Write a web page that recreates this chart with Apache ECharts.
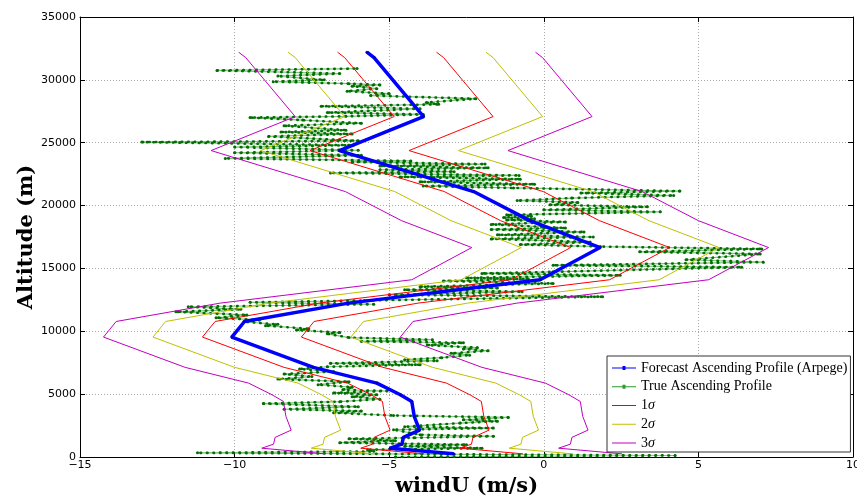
<!DOCTYPE html>
<html><head><meta charset="utf-8">
<script src="https://cdn.jsdelivr.net/npm/echarts@6/dist/echarts.min.js"></script>
<style>html,body{margin:0;padding:0;background:#fff}#c{width:857px;height:498px}</style>
</head><body><div id="c"></div>
<script>
// ---- axis ticks ----
const xTickValues = [-15, -10, -5, 0, 5, 10];
const yTickValues = [0, 5000, 10000, 15000, 20000, 25000, 30000, 35000];

// ---- forecast profile and sigma envelopes (same altitudes) ----
const profileAlt = [250, 700, 1020, 1560, 2140, 3230, 4420, 4950, 5880, 7130, 9540, 10780, 12240, 14100, 16660, 18800, 21115, 24375, 27080, 31770, 32200];
const forecastU  = [-2.92, -4.97, -4.59, -4.54, -4.02, -4.19, -4.27, -4.64, -5.40, -7.45, -10.09, -9.68, -6.32, -0.12, 1.82, -0.45, -2.27, -6.61, -3.89, -5.49, -5.72];
const sig1Left   = [-3.87, -5.92, -5.54, -5.49, -4.97, -5.14, -5.22, -5.59, -6.35, -8.40, -11.04, -10.63, -7.27, -1.07, 0.87, -1.40, -3.22, -7.56, -4.84, -6.44, -6.67];
const sig1Right  = [-0.67, -2.72, -2.34, -2.29, -1.77, -1.94, -2.02, -2.39, -3.15, -5.20, -7.84, -7.43, -4.07, 2.13, 4.07, 1.80, -0.02, -4.36, -1.64, -3.24, -3.47];
const sig2Left   = [-5.47, -7.52, -7.14, -7.09, -6.57, -6.74, -6.82, -7.19, -7.95, -10.00, -12.64, -12.23, -8.87, -2.67, -0.73, -3.00, -4.82, -9.16, -6.44, -8.04, -8.27];
const sig2Right  = [0.93, -1.12, -0.74, -0.69, -0.17, -0.34, -0.42, -0.79, -1.55, -3.60, -6.24, -5.83, -2.47, 3.73, 5.67, 3.40, 1.58, -2.76, -0.04, -1.64, -1.87];
const sig3Left   = [-7.07, -9.12, -8.74, -8.69, -8.17, -8.34, -8.42, -8.79, -9.55, -11.60, -14.24, -13.83, -10.47, -4.27, -2.33, -4.60, -6.42, -10.76, -8.04, -9.64, -9.87];
const sig3Right  = [2.53, 0.48, 0.86, 0.91, 1.43, 1.26, 1.18, 0.81, 0.05, -2.00, -4.64, -4.23, -0.87, 5.33, 7.27, 5.00, 3.18, -1.16, 1.56, -0.04, -0.27];

// ---- true ascending profile ----
const trueAlt = [0, 120, 330, 450, 580, 700, 850, 980, 1140, 1300, 1450, 1530, 1650, 1770, 2170, 2300, 2410, 2700, 2850, 2960,
  3150, 3300, 3520, 3650, 3800, 4000, 4250, 4400, 4600, 4800, 4950, 5100, 5250, 5350, 5550, 5750, 5990, 6200, 6400, 6600,
  6800, 7000, 7180, 7340, 7450, 7650, 7740, 7900, 8100, 8250, 8450, 8600, 8700, 8900, 9090, 9200, 9330, 9500, 9800, 9900,
  10100, 10200, 10450, 10550, 10760, 10900, 11070, 11300, 11550, 11750, 11950, 12150, 12300, 12450, 12750, 12900, 13150, 13300, 13450, 13550,
  13800, 14000, 14150, 14250, 14450, 14600, 14730, 15100, 15250, 15500, 15690, 16150, 16320, 16550, 16740, 16900, 17100, 17350, 17500, 17670,
  17900, 18100, 18220, 18500, 18700, 18860, 18950, 19050, 19150, 19260, 19500, 19660, 19900, 20060, 20250, 20400, 20600, 20800, 21000, 21150,
  21400, 21550, 21700, 21890, 22100, 22280, 22400, 22600, 22700, 22850, 23000, 23150, 23300, 23470, 23550, 23750, 24000, 24200, 24400, 24650,
  24800, 25050, 25150, 25500, 25700, 25850, 26000, 26350, 26550, 26800, 27000, 27100, 27250, 27400, 27700, 27900, 28050, 28200, 28500, 28750,
  28900, 29100, 29300, 29500, 29600, 29700, 29850, 30000, 30300, 30500, 30750, 30900];
const trueU = [-4.8, 4.25, -11.2, -5.5, -5.7, -2.0, -4.5, -2.5, -6.6, -4.8, -6.3, -4.2, -1.63, -4.0, -4.86, -1.63, -4.5, -2.7, -1.5, -2.6,
  -1.15, -4.86, -6.8, -5.9, -8.4, -6.0, -9.07, -6.6, -5.3, -6.2, -5.4, -6.8, -5.07, -6.5, -6.2, -7.3, -6.3, -8.6, -7.5, -8.4,
  -6.8, -7.9, -7.0, -4.0, -6.9, -3.45, -4.5, -3.3, -2.4, -3.0, -1.8, -2.6, -2.15, -3.77, -2.6, -5.9, -3.6, -6.3, -7.0, -6.6,
  -8.0, -7.6, -9.0, -8.6, -9.7, -9.2, -10.6, -9.6, -11.9, -9.8, -11.5, -5.5, -9.5, -5.8, 1.9, -5.0, -0.7, -4.5, -1.5, -4.0,
  0.3, -3.25, -0.5, -2.5, 2.47, -2.0, 0.3, 6.4, 0.3, 7.1, 4.6, 7.0, 3.1, 7.05, 1.83, -0.76, 1.5, -1.7, 1.6, -1.5,
  1.3, -1.7, 0.7, -1.7, 0.7, -1.2, -0.3, -1.3, -0.4, -1.2, 3.77, 0.0, 3.35, 0.2, 1.1, -0.86, 0.9, 4.2, 1.2, 4.4,
  -0.98, -3.9, -0.3, -4.0, -0.76, -4.65, -0.8, -6.9, -2.9, -5.3, -1.8, -5.3, -1.9, -6.2, -4.3, -10.3, -5.9, -10.0, -6.0, -10.0,
  -6.16, -13.0, -6.0, -8.9, -6.2, -8.5, -6.4, -8.4, -5.9, -7.8, -9.5, -6.4, -3.9, -7.0, -4.0, -7.2, -3.4, -3.8, -2.2, -5.6,
  -5.0, -6.36, -5.4, -6.2, -5.3, -6.3, -8.75, -7.1, -8.6, -6.6, -10.57, -6.04];

const NAME_F = 'Forecast Ascending Profile (Arpege)';
const NAME_T = 'True Ascending Profile';
const pairs = (us, alts) => us.map((u, i) => [u, alts[i]]);
const fmtMinus = v => (v < 0 ? '\u2212' + Math.abs(v) : String(v));

// legend icons: thin line (optionally with a small dot); tiny corner specks keep the 24x14 box
const ICON_LINE = 'path://M0,6.5h24v1h-24z M0,0h0.05v0.05h-0.05z M24,14h-0.05v-0.05h0.05z';
const ICON_LINE_DOT = 'path://M0,6.5h10.5v-1.5h3v1.5h10.5v1h-10.5v1.5h-3v-1.5h-10.5z M0,0h0.05v0.05h-0.05z M24,14h-0.05v-0.05h0.05z';

const C_RED = 'rgb(255,0,0)', C_YEL = '#c0c000', C_MAG = '#c000c0';

function sigmaSeries(name, color, values) {
  return { name, type: 'line', color, data: pairs(values, profileAlt), symbol: 'none',
    lineStyle: { color, width: 1 }, itemStyle: { color }, z: 3, silent: true };
}
function legendItem(name, icon, color) {
  return { name, icon, itemStyle: { color, borderColor: color, borderWidth: 0, opacity: 1 }, lineStyle: { color } };
}

const chart = echarts.init(document.getElementById('c'), null, { renderer: 'canvas' });
const axisCommon = {
  axisLine: { show: true, onZero: false, lineStyle: { color: '#000', width: 1 } },
  axisTick: { show: true, inside: true, length: 5, lineStyle: { color: '#000' } },
};
chart.setOption({
  animation: false,
  backgroundColor: '#fff',
  color: [C_RED, C_YEL, C_MAG, '#0000ff', '#008000'],
  grid: { left: 80, right: 4, top: 17, bottom: 41, containLabel: false, outerBoundsMode: 'none' },
  xAxis: [
    Object.assign({ type: 'value', min: xTickValues[0], max: xTickValues[xTickValues.length - 1], interval: 5,
      name: 'windU (m/s)', nameLocation: 'middle', nameGap: 19, nameMoveOverlap: false,
      nameTextStyle: { fontFamily: 'DejaVu Serif', fontWeight: 'bold', fontSize: 21, color: '#000' },
      axisLabel: { formatter: fmtMinus, fontFamily: 'DejaVu Sans', fontSize: 11, color: '#000', margin: 3 },
      splitLine: { show: true, lineStyle: { color: '#aaa', type: [1, 2], width: 1 } } }, axisCommon),
    Object.assign({ type: 'value', position: 'top', min: -15, max: 10, interval: 5,
      axisLabel: { show: false }, splitLine: { show: false } }, axisCommon)
  ],
  yAxis: [
    Object.assign({ type: 'value', min: yTickValues[0], max: yTickValues[yTickValues.length - 1], interval: 5000,
      name: 'Altitude (m)', nameLocation: 'middle', nameGap: 43, nameMoveOverlap: false,
      nameTextStyle: { fontFamily: 'DejaVu Serif', fontWeight: 'bold', fontSize: 21, color: '#000' },
      axisLabel: { formatter: v => String(v), fontFamily: 'DejaVu Sans', fontSize: 11, color: '#000', margin: 4 },
      splitLine: { show: true, lineStyle: { color: '#aaa', type: [1, 2], width: 1 } } }, axisCommon),
    Object.assign({ type: 'value', position: 'right', min: 0, max: 35000, interval: 5000,
      axisLabel: { show: false }, splitLine: { show: false } }, axisCommon)
  ],
  legend: {
    data: [
      legendItem(NAME_F, ICON_LINE_DOT, '#0000ff'),
      legendItem(NAME_T, ICON_LINE_DOT, '#2a9a2a'),
      legendItem('1σ', ICON_LINE, C_RED),
      legendItem('2σ', ICON_LINE, C_YEL),
      legendItem('3σ', ICON_LINE, C_MAG)
    ],
    orient: 'vertical', left: 607, top: 356,
    padding: [5, 3, 2, 5], itemGap: 4.75, itemWidth: 24, itemHeight: 14,
    backgroundColor: '#fff', borderColor: '#333', borderWidth: 1,
    selectedMode: false,
    formatter: n => (n.endsWith('σ') ? n[0] + '{i|σ}' : n),
    textStyle: { fontFamily: 'Liberation Serif', fontSize: 14, color: '#000', lineHeight: 14,
      rich: { i: { fontFamily: 'Liberation Serif', fontStyle: 'italic', fontSize: 14, color: '#000' } } }
  },
  series: [
    sigmaSeries('1σ', C_RED, sig1Left), sigmaSeries('1σ', C_RED, sig1Right),
    sigmaSeries('2σ', C_YEL, sig2Left), sigmaSeries('2σ', C_YEL, sig2Right),
    sigmaSeries('3σ', C_MAG, sig3Left), sigmaSeries('3σ', C_MAG, sig3Right),
    { name: NAME_T, type: 'line', data: pairs(trueU, trueAlt), symbol: 'circle', symbolSize: 3, showSymbol: true,
      lineStyle: { color: 'rgba(0,128,0,0.5)', width: 1.2 }, itemStyle: { color: '#006e00' }, z: 2, silent: true },
    { name: 'true-dots', type: 'line', data: pairs(trueU, trueAlt), symbol: 'none',
      lineStyle: { color: '#007000', width: 2.6, type: [0.5, 6], cap: 'round' }, z: 2, silent: true },
    { name: NAME_F, type: 'line', data: pairs(forecastU, profileAlt), symbol: 'circle', symbolSize: 3, showSymbol: true,
      lineStyle: { color: '#0000ff', width: 3.5 }, itemStyle: { color: '#0000c0' }, z: 4, silent: true }
  ]
});
</script></body></html>
